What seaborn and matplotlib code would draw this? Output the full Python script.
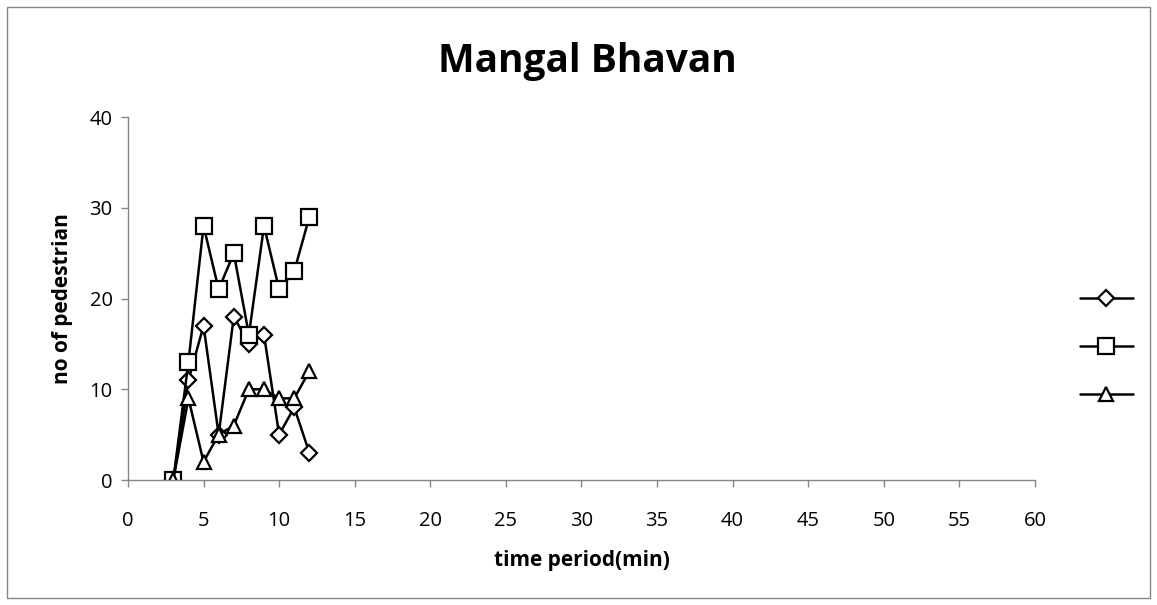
import pandas as pd
import seaborn as sns
from matplotlib import pyplot as plt

# values
minutes = [3, 4, 5, 6, 7, 8, 9, 10, 11, 12]
diamond_counts = [0, 11, 17, 5, 18, 15, 16, 5, 8, 3]
square_counts = [0, 13, 28, 21, 25, 16, 28, 21, 23, 29]
triangle_counts = [0, 9, 2, 5, 6, 10, 10, 9, 9, 12]
series_names = ["s1", "s2", "s3"]
x_ticks = list(range(0, 61, 5))
y_ticks = [0, 10, 20, 30, 40]

frames = []
for name, counts in zip(series_names, [diamond_counts, square_counts, triangle_counts]):
    frames.append(pd.DataFrame({"minute": minutes, "count": counts, "series": name}))
df = pd.concat(frames, ignore_index=True)

sns.set_style("white")
plt.rcParams['font.family'] = ['Open Sans', 'DejaVu Sans']
plt.rcParams['text.color'] = 'black'
plt.rcParams['axes.labelcolor'] = 'black'

fig = plt.figure(figsize=(11.57, 6.05), dpi=100)
ax = fig.add_axes([0.1106, 0.2066, 0.7839, 0.6])

sns.lineplot(data=df, x="minute", y="count", hue="series", style="series",
             palette=["black"] * 3, markers=["D", "s", "^"], dashes=False,
             linewidth=1.8, markersize=10, markerfacecolor="white",
             markeredgecolor="black", markeredgewidth=1.6, ax=ax, legend=True)

# marker sizes per series, to look like the reference
marker_sizes = [8, 11, 10]
for line, ms in zip(ax.get_lines(), marker_sizes):
    line.set_markersize(ms)

ax.set_xlim(0, 60)
ax.set_ylim(0, 40)
ax.set_xticks(x_ticks)
ax.set_yticks(y_ticks)
ax.tick_params(axis="both", labelsize=14.5, length=5, width=1, color="#868686",
               labelcolor="black", direction="out", bottom=True, left=True)
ax.tick_params(axis="x", pad=17)
ax.tick_params(axis="y", pad=6)

for side in ["top", "right"]:
    ax.spines[side].set_visible(False)
for side in ["left", "bottom"]:
    ax.spines[side].set_color("#868686")
    ax.spines[side].set_linewidth(1)

ax.set_xlabel("time period(min)", fontsize=15, fontweight="bold", labelpad=14)
ax.set_ylabel("no of pedestrian", fontsize=15, fontweight="bold", labelpad=12)
fig.suptitle("Mangal Bhavan", x=0.508, y=0.93, fontsize=28, fontweight="bold")

# legend with markers but no text, like the reference
handles, labels = ax.get_legend_handles_labels()
for h, ms in zip(handles, marker_sizes):
    h.set_markersize(ms)
ax.legend(handles, [""] * len(handles), loc="center left",
          bbox_to_anchor=(1.036, 0.365), frameon=False, handlelength=3.8,
          labelspacing=2.4, handletextpad=0)

# grey border round the whole chart
fig.patches.append(plt.Rectangle((0.006, 0.012), 0.988, 0.976, transform=fig.transFigure,
                                 fill=False, edgecolor="#868686", linewidth=1))

fig.savefig("out.png", dpi=100)
